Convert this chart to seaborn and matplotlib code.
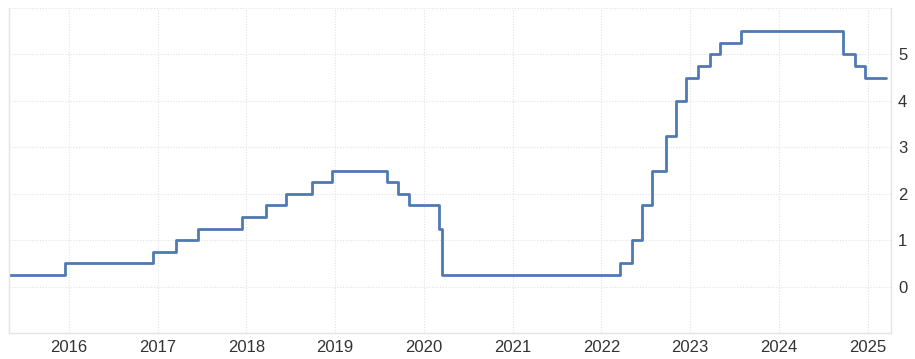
import matplotlib
matplotlib.use("Agg")
import matplotlib.pyplot as plt
import matplotlib.dates as mdates
import seaborn as sns
import pandas as pd

dates = ["2015-05-01", "2015-12-17", "2016-12-15", "2017-03-16", "2017-06-15",
         "2017-12-14", "2018-03-22", "2018-06-14", "2018-09-27", "2018-12-20",
         "2019-08-01", "2019-09-19", "2019-10-31", "2020-03-04", "2020-03-16",
         "2022-03-17", "2022-05-05", "2022-06-16", "2022-07-28", "2022-09-22",
         "2022-11-03", "2022-12-15", "2023-02-02", "2023-03-23", "2023-05-04",
         "2023-07-27", "2024-09-19", "2024-11-08", "2024-12-19", "2025-03-15"]
rates = [0.25, 0.5, 0.75, 1.0, 1.25,
         1.5, 1.75, 2.0, 2.25, 2.5,
         2.25, 2.0, 1.75, 1.25, 0.25,
         0.5, 1.0, 1.75, 2.5, 3.25,
         4.0, 4.5, 4.75, 5.0, 5.25,
         5.5, 5.0, 4.75, 4.5, 4.5]
year_ticks = list(range(2016, 2026))
y_ticks = [0, 1, 2, 3, 4, 5]

df = pd.DataFrame({"date": pd.to_datetime(dates), "rate": rates})

sns.set_theme(style="white")
plt.rcParams["font.family"] = ["Liberation Sans", "DejaVu Sans"]

fig = plt.figure(figsize=(9.15, 3.59), dpi=100)
ax = fig.add_axes([9 / 915, 26 / 359, 882 / 915, 325 / 359])

sns.lineplot(data=df, x="date", y="rate", ax=ax, color="#4f79b3",
             linewidth=2.0, drawstyle="steps-post")

ax.set_xlim(pd.Timestamp("2015-05-01"), pd.Timestamp("2025-04-06"))
ax.set_ylim(-1, 6)

ax.set_xticks([pd.Timestamp(f"{y}-01-01") for y in year_ticks])
ax.xaxis.set_major_formatter(mdates.DateFormatter("%Y"))
ax.set_yticks([-1] + y_ticks + [6])
ax.set_yticklabels([""] + [str(v) for v in y_ticks] + [""])
ax.yaxis.tick_right()

ax.grid(True, which="major", color="#e2e2e2", linestyle=(0, (1, 1.5)), linewidth=0.8)
ax.tick_params(axis="both", length=0, labelsize=12, colors="#333333", pad=5)
ax.set_xlabel("")
ax.set_ylabel("")

for side in ["left", "bottom", "right"]:
    ax.spines[side].set_visible(True)
    ax.spines[side].set_color("#e4e4e4")
    ax.spines[side].set_linewidth(1.0)
ax.spines["top"].set_visible(False)

fig.savefig("out.png", dpi=100)
